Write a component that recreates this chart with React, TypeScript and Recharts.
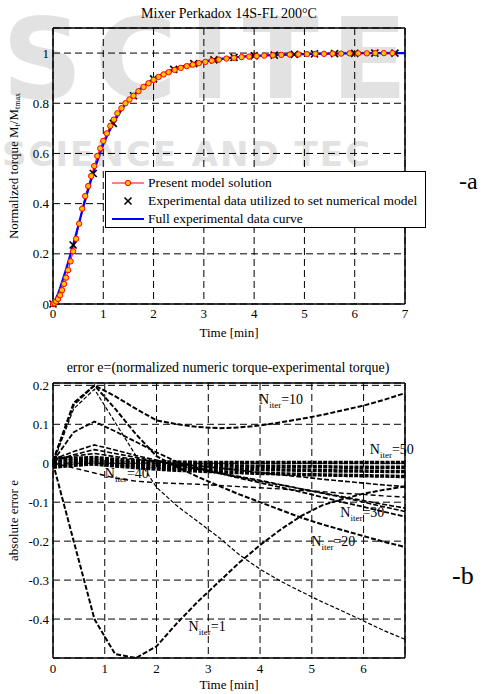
import React from 'react';
import {
  ComposedChart,
  LineChart,
  Line,
  Scatter,
  XAxis,
  YAxis,
  CartesianGrid,
  ReferenceLine,
  ReferenceDot,
  Legend,
} from 'recharts';

const FONT = "'Liberation Serif','Times New Roman',serif";

// ---------- Top chart data ----------
const modelTime = [0, 0.03, 0.06, 0.1, 0.14, 0.18, 0.22, 0.26, 0.3, 0.35, 0.4, 0.46, 0.52, 0.58, 0.64, 0.7, 0.76, 0.82, 0.88, 0.94, 1.0, 1.07, 1.14, 1.21, 1.28, 1.36, 1.44, 1.52, 1.6, 1.7, 1.8, 1.9, 2.0, 2.1, 2.2, 2.3, 2.42, 2.54, 2.66, 2.78, 2.9, 3.03, 3.16, 3.3, 3.45, 3.6, 3.75, 3.9, 4.05, 4.2, 4.37, 4.54, 4.71, 4.88, 5.05, 5.22, 5.39, 5.56, 5.73, 5.9, 6.07, 6.24, 6.41, 6.58, 6.75];
const modelTorque = [0, 0.003, 0.01, 0.02, 0.035, 0.055, 0.08, 0.105, 0.135, 0.17, 0.21, 0.26, 0.32, 0.38, 0.43, 0.47, 0.51, 0.55, 0.59, 0.62, 0.65, 0.68, 0.71, 0.735, 0.76, 0.78, 0.8, 0.815, 0.83, 0.848, 0.865, 0.88, 0.893, 0.905, 0.915, 0.924, 0.933, 0.941, 0.948, 0.954, 0.96, 0.965, 0.97, 0.974, 0.978, 0.981, 0.984, 0.986, 0.988, 0.99, 0.991, 0.993, 0.994, 0.995, 0.996, 0.997, 0.997, 0.998, 0.998, 0.999, 0.999, 0.999, 1.0, 1.0, 1.0];

const fullTime = [0, 0.1, 0.2, 0.3, 0.4, 0.5, 0.6, 0.7, 0.8, 0.9, 1.0, 1.2, 1.4, 1.6, 1.8, 2.0, 2.4, 2.8, 3.2, 3.6, 4.0, 4.5, 5.0, 5.5, 6.0, 6.5, 7.0];
const fullTorque = [0, 0.04, 0.1, 0.165, 0.235, 0.31, 0.385, 0.455, 0.52, 0.58, 0.635, 0.72, 0.785, 0.83, 0.868, 0.897, 0.935, 0.958, 0.973, 0.983, 0.989, 0.993, 0.996, 0.998, 0.999, 1.0, 1.0];

const expTime = [0, 0.4, 0.8, 1.2, 1.6, 2.0, 2.4, 2.8, 3.2, 3.6, 4.0, 4.4, 4.8, 5.2, 5.6, 6.0, 6.4, 6.8];
const expTorque = [0, 0.235, 0.52, 0.72, 0.83, 0.897, 0.935, 0.958, 0.973, 0.983, 0.989, 0.992, 0.995, 0.997, 0.998, 0.999, 1.0, 1.0];

const topXTicks = [0, 1, 2, 3, 4, 5, 6, 7];
const topYTicks = [0, 0.2, 0.4, 0.6, 0.8, 1];

// ---------- Bottom chart data ----------
const errTime = [0, 0.4, 0.8, 1.2, 1.6, 2.0, 2.4, 2.8, 3.2, 3.6, 4.0, 4.4, 4.8, 5.2, 5.6, 6.0, 6.4, 6.8];
const errN1 = [0, -0.2, -0.4, -0.49, -0.5, -0.47, -0.41, -0.355, -0.305, -0.255, -0.21, -0.17, -0.135, -0.108, -0.092, -0.078, -0.068, -0.06];
const errN10 = [0.005, 0.155, 0.2, 0.172, 0.14, 0.11, 0.1, 0.093, 0.09, 0.092, 0.097, 0.105, 0.114, 0.124, 0.136, 0.148, 0.163, 0.18];
const errN20 = [0.005, 0.15, 0.2, 0.14, 0.075, 0.018, -0.01, -0.035, -0.058, -0.08, -0.1, -0.12, -0.14, -0.157, -0.172, -0.187, -0.202, -0.215];
const errThin = [0, 0.14, 0.19, 0.105, 0.02, -0.062, -0.11, -0.15, -0.19, -0.235, -0.272, -0.303, -0.33, -0.356, -0.38, -0.405, -0.43, -0.452];
const errD = [0.005, 0.08, 0.107, 0.082, 0.055, 0.028, 0.003, -0.012, -0.025, -0.038, -0.05, -0.062, -0.074, -0.087, -0.1, -0.112, -0.125, -0.137];
const errE = [0.01, 0.03, 0.047, 0.034, 0.02, 0.008, -0.004, -0.014, -0.024, -0.034, -0.044, -0.055, -0.066, -0.077, -0.088, -0.1, -0.112, -0.124];
const errF = [0.005, 0.022, 0.035, 0.025, 0.015, 0.005, -0.006, -0.016, -0.026, -0.036, -0.046, -0.056, -0.066, -0.076, -0.086, -0.096, -0.106, -0.115];
const errN40 = [0, -0.012, -0.025, -0.038, -0.046, -0.05, -0.052, -0.054, -0.057, -0.06, -0.063, -0.066, -0.07, -0.073, -0.077, -0.08, -0.084, -0.087];
const errG = [0.01, 0.018, 0.025, 0.017, 0.01, 0.004, -0.002, -0.007, -0.012, -0.018, -0.024, -0.03, -0.035, -0.041, -0.046, -0.051, -0.056, -0.06];
const errBand1 = [0.015, 0.012, 0.015, 0.01, 0.006, 0.004, 0.003, 0.002, 0.002, 0.002, 0.002, 0.002, 0.002, 0.002, 0.002, 0.002, 0.002, 0.002];
const errBand2 = [0.005, 0.006, 0.008, 0.004, 0.0, -0.002, -0.004, -0.005, -0.006, -0.007, -0.008, -0.008, -0.009, -0.009, -0.01, -0.01, -0.01, -0.01];
const errBand3 = [-0.005, 0.0, 0.003, -0.002, -0.006, -0.009, -0.011, -0.013, -0.014, -0.015, -0.016, -0.017, -0.018, -0.019, -0.02, -0.02, -0.021, -0.021];
const errBand4 = [-0.01, -0.005, -0.002, -0.007, -0.011, -0.015, -0.018, -0.02, -0.022, -0.024, -0.026, -0.027, -0.029, -0.03, -0.031, -0.032, -0.033, -0.034];

const botXTicks = [0, 1, 2, 3, 4, 5, 6];
const botYTicks = [-0.4, -0.3, -0.2, -0.1, 0, 0.1, 0.2];

// N_iter labels: [n, time, error]
const iterLabels: [string, number, number][] = [
  ['10', 3.98, 0.152],
  ['50', 6.12, 0.024],
  ['40', 1.0, -0.038],
  ['30', 5.55, -0.137],
  ['20', 4.99, -0.212],
  ['1', 2.62, -0.431],
];

const zip = (ts: number[], vs: number[]) => ts.map((t, i) => ({ t, v: vs[i] }));

const modelData = zip(modelTime, modelTorque);
const fullData = zip(fullTime, fullTorque);
const expData = zip(expTime, expTorque);

const errSeries = [
  { key: 'band1', vals: errBand1, w: 3.5, dash: '4 1.2' },
  { key: 'band2', vals: errBand2, w: 3.5, dash: '4 1.2' },
  { key: 'band3', vals: errBand3, w: 3.5, dash: '4 1.2' },
  { key: 'band4', vals: errBand4, w: 3.5, dash: '4 1.2' },
  { key: 'g', vals: errG, w: 1.6, dash: '5 2' },
  { key: 'n40', vals: errN40, w: 1.4, dash: '5 3' },
  { key: 'f', vals: errF, w: 1.6, dash: '5 2' },
  { key: 'e', vals: errE, w: 1.6, dash: '5 2' },
  { key: 'd', vals: errD, w: 1.8, dash: '5 2' },
  { key: 'thin', vals: errThin, w: 1.2, dash: '4 2' },
  { key: 'n20', vals: errN20, w: 2, dash: '5 2' },
  { key: 'n10', vals: errN10, w: 2, dash: '5 2' },
  { key: 'n1', vals: errN1, w: 2, dash: '5 2' },
];

const tickStyle = { fontFamily: FONT, fontSize: 13, fill: '#000' };
const gridDash = '7 4';

const CrossShape = (props: any) => {
  const { cx, cy } = props;
  if (cx == null || cy == null) return null;
  const s = 3.5;
  return (
    <g>
      <line x1={cx - s} y1={cy - s} x2={cx + s} y2={cy + s} stroke="#000" strokeWidth={1.6} />
      <line x1={cx - s} y1={cy + s} x2={cx + s} y2={cy - s} stroke="#000" strokeWidth={1.6} />
    </g>
  );
};

const TopYLabel = (props: any) => {
  const vb = props.viewBox || { x: 0, y: 28, width: 53, height: 276 };
  const cx = 15;
  const cy = vb.y + vb.height / 2;
  return (
    <text
      x={cx}
      y={cy}
      transform={`rotate(-90 ${cx} ${cy})`}
      textAnchor="middle"
      dominantBaseline="middle"
      style={{ fontFamily: FONT, fontSize: 13, fill: '#000' }}
    >
      Normalized torque M
      <tspan dy={3} fontSize={8}>t</tspan>
      <tspan dy={-3}>/M</tspan>
      <tspan dy={3} fontSize={8}>tmax</tspan>
    </text>
  );
};

const BotYLabel = (props: any) => {
  const vb = props.viewBox || { x: 0, y: 43, width: 53, height: 275 };
  const cx = 15;
  const cy = vb.y + vb.height / 2;
  return (
    <text
      x={cx}
      y={cy}
      transform={`rotate(-90 ${cx} ${cy})`}
      textAnchor="middle"
      dominantBaseline="middle"
      style={{ fontFamily: FONT, fontSize: 13, fill: '#000' }}
    >
      absolute error e
    </text>
  );
};

const makeIterLabel = (n: string) => (props: any) => {
  const vb = props.viewBox;
  if (!vb) return null;
  return (
    <text x={vb.x} y={vb.y} style={{ fontFamily: FONT, fontSize: 14, fill: '#000' }}>
      N
      <tspan dy={4} fontSize={9}>iter</tspan>
      <tspan dy={-4}>={n}</tspan>
    </text>
  );
};

const LegendBox = () => (
  <div
    style={{
      width: 321,
      height: 57,
      border: '1.5px solid #000',
      background: '#fff',
      boxSizing: 'border-box',
      fontFamily: FONT,
      fontSize: 13.5,
      color: '#000',
      position: 'relative',
    }}
  >
    {[0, 1, 2].map((i) => (
      <div
        key={i}
        style={{
          position: 'absolute',
          left: 6,
          top: 2 + i * 18,
          height: 18,
          display: 'flex',
          alignItems: 'center',
          whiteSpace: 'nowrap',
        }}
      >
        <svg width={32} height={18} style={{ marginRight: 4 }}>
          {i === 0 && (
            <g>
              <line x1={0} y1={9} x2={32} y2={9} stroke="#ff0000" strokeWidth={1} />
              <circle cx={16} cy={9} r={2.7} fill="#ffc000" stroke="#ff0000" strokeWidth={1} />
            </g>
          )}
          {i === 1 && <CrossShape cx={16} cy={9} />}
          {i === 2 && <line x1={0} y1={9} x2={32} y2={9} stroke="#0000ff" strokeWidth={2} />}
        </svg>
        <span>
          {i === 0
            ? 'Present model solution'
            : i === 1
            ? 'Experimental data utilized to set numerical model'
            : 'Full experimental data curve'}
        </span>
      </div>
    ))}
  </div>
);

export default function App() {
  return (
    <div
      style={{
        position: 'absolute',
        left: 0,
        top: 0,
        width: 481,
        height: 694,
        overflow: 'hidden',
        background: '#fff',
      }}
    >
      {/* background: watermark and free text */}
      <svg width={481} height={694} style={{ position: 'absolute', left: 0, top: 0 }}>
        <text
          x={2}
          y={98}
          style={{ fontFamily: "'DejaVu Sans', sans-serif", fontWeight: 'bold', fontSize: 112, fill: '#e2e2e2', letterSpacing: 12 }}
        >
          SCITE
        </text>
        <text
          x={2}
          y={166}
          style={{ fontFamily: "'DejaVu Sans', sans-serif", fontWeight: 'bold', fontSize: 34, fill: '#e2e2e2', letterSpacing: 2 }}
        >
          SCIENCE AND TEC
        </text>
        <text x={229} y={18} textAnchor="middle" style={{ fontFamily: FONT, fontSize: 14, fill: '#000' }}>
          Mixer Perkadox 14S-FL 200°C
        </text>
        <text x={228} y={372} textAnchor="middle" style={{ fontFamily: FONT, fontSize: 14, fill: '#000' }}>
          error e=(normalized numeric torque-experimental torque)
        </text>
        <text x={459} y={189} style={{ fontFamily: FONT, fontSize: 24, fill: '#000' }}>
          -a
        </text>
        <text x={452} y={584} style={{ fontFamily: FONT, fontSize: 26, fill: '#000' }}>
          -b
        </text>
      </svg>

      {/* top chart */}
      <div style={{ position: 'absolute', left: 0, top: 0 }}>
        <ComposedChart width={481} height={340} margin={{ top: 28, right: 76, bottom: 0, left: 0 }}>
          <CartesianGrid stroke="#000" strokeDasharray={gridDash} strokeWidth={1} />
          <XAxis
            dataKey="t"
            type="number"
            domain={[0, 7]}
            ticks={topXTicks}
            height={36}
            tickSize={2}
            tickMargin={3}
            tickLine={false}
            axisLine={{ stroke: '#000', strokeWidth: 1.5 }}
            tick={tickStyle}
            allowDuplicatedCategory={false}
            label={{ value: 'Time [min]', position: 'insideBottom', offset: 3, style: { fontFamily: FONT, fontSize: 13, fill: '#000' } }}
          />
          <YAxis
            type="number"
            domain={[0, 1.1]}
            ticks={topYTicks}
            width={53}
            tickSize={2}
            tickMargin={2}
            tickLine={false}
            axisLine={{ stroke: '#000', strokeWidth: 1.5 }}
            tick={tickStyle}
            label={TopYLabel}
          />
          <ReferenceLine y={1.1} stroke="#000" strokeWidth={1.5} />
          <ReferenceLine x={7} stroke="#000" strokeWidth={1.5} />
          <Line
            data={modelData}
            dataKey="v"
            type="linear"
            stroke="#ff0000"
            strokeWidth={1}
            dot={{ r: 2.7, fill: '#ffc000', stroke: '#ff0000', strokeWidth: 1 }}
            isAnimationActive={false}
            name="Present model solution"
          />
          <Scatter
            data={expData}
            dataKey="v"
            shape={CrossShape}
            isAnimationActive={false}
            name="Experimental data utilized to set numerical model"
          />
          <Line
            data={fullData}
            dataKey="v"
            type="monotone"
            stroke="#0000ff"
            strokeWidth={2.2}
            dot={false}
            isAnimationActive={false}
            name="Full experimental data curve"
          />
          <Legend
            layout="horizontal"
            verticalAlign="middle"
            align="center"
            content={() => <LegendBox />}
            wrapperStyle={{ left: 105, top: 171, width: 321, height: 57 }}
          />
        </ComposedChart>
      </div>

      {/* bottom chart */}
      <div style={{ position: 'absolute', left: 0, top: 340 }}>
        <LineChart width={481} height={354} margin={{ top: 43, right: 76, bottom: 0, left: 0 }}>
          <CartesianGrid stroke="#000" strokeDasharray={gridDash} strokeWidth={1} />
          <XAxis
            dataKey="t"
            type="number"
            domain={[0, 6.8]}
            ticks={botXTicks}
            height={36}
            tickSize={2}
            tickMargin={4}
            tickLine={false}
            axisLine={{ stroke: '#000', strokeWidth: 1.5 }}
            tick={tickStyle}
            allowDuplicatedCategory={false}
            label={{ value: 'Time [min]', position: 'insideBottom', offset: 5, style: { fontFamily: FONT, fontSize: 13, fill: '#000' } }}
          />
          <YAxis
            type="number"
            domain={[-0.5, 0.206]}
            ticks={botYTicks}
            width={53}
            tickSize={2}
            tickMargin={2}
            tickLine={false}
            axisLine={{ stroke: '#000', strokeWidth: 1.5 }}
            tick={tickStyle}
            allowDataOverflow
            label={BotYLabel}
          />
          <ReferenceLine y={0.206} stroke="#000" strokeWidth={1.5} />
          <ReferenceLine x={6.8} stroke="#000" strokeWidth={1.5} />
          {errSeries.map((s) => (
            <Line
              key={s.key}
              data={zip(errTime, s.vals)}
              dataKey="v"
              type="linear"
              stroke="#000"
              strokeWidth={s.w}
              strokeDasharray={s.dash}
              dot={false}
              isAnimationActive={false}
            />
          ))}
          {iterLabels.map(([n, t, e]) => (
            <ReferenceDot key={n} x={t} y={e} r={0} fill="none" stroke="none" label={makeIterLabel(n)} />
          ))}
        </LineChart>
      </div>
    </div>
  );
}
